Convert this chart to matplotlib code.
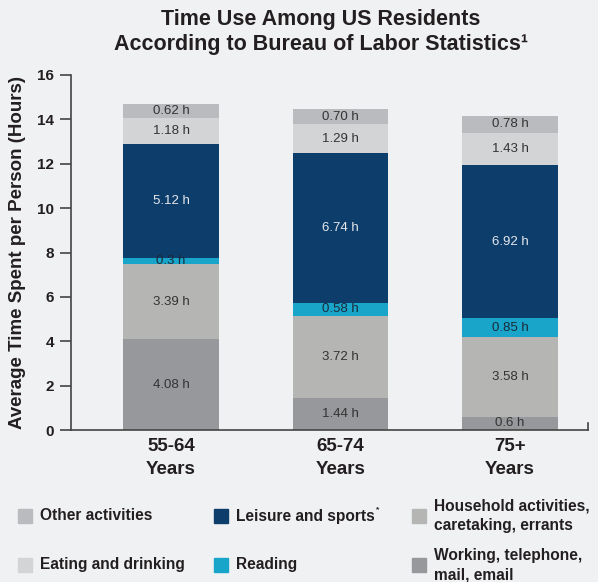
import matplotlib.pyplot as plt
from matplotlib.patches import Rectangle

plt.rcParams['font.family'] = ['Liberation Sans', 'DejaVu Sans']

# data
groups = ['55-64\nYears', '65-74\nYears', '75+\nYears']
working = [4.08, 1.44, 0.6]
household = [3.39, 3.72, 3.58]
reading = [0.3, 0.58, 0.85]
leisure = [5.12, 6.74, 6.92]
eating = [1.18, 1.29, 1.43]
other = [0.62, 0.70, 0.78]

series = [
    ('Working, telephone,\nmail, email', working, '#97989c', '#333333', '{:g} h'),
    ('Household activities,\ncaretaking, errants', household, '#b5b5b3', '#333333', '{:.2f} h'),
    ('Reading', reading, '#18a5c9', '#1c2a3a', '{:g} h'),
    ('Leisure and sports', leisure, '#0d3d6b', '#e6e8ec', '{:.2f} h'),
    ('Eating and drinking', eating, '#d3d4d6', '#333333', '{:.2f} h'),
    ('Other activities', other, '#babbbe', '#333333', '{:.2f} h'),
]

bg = '#f0f1f3'
dark = '#231f20'

fig = plt.figure(figsize=(5.98, 5.82), dpi=100, facecolor=bg)
W, H = 598, 582
ax = fig.add_axes([71 / W, 1 - 430 / H, (588 - 71) / W, (430 - 75) / H])
ax.set_facecolor(bg)

x = range(len(groups))
bottom = [0, 0, 0]
for name, vals, col, tcol, fmt in series:
    ax.bar(x, vals, width=0.566, bottom=bottom, color=col, edgecolor='none', zorder=2)
    for i, v in enumerate(vals):
        ax.text(i, bottom[i] + v / 2, fmt.format(v), ha='center', va='center',
                fontsize=9.5, color=tcol, zorder=3)
    bottom = [b + v for b, v in zip(bottom, vals)]

ax.set_xlim(-0.59, 2.46)
ax.set_ylim(0, 16)
ax.set_yticks(range(0, 17, 2))
ax.set_xticks(list(x))
ax.set_xticklabels(groups, fontsize=13.5, fontweight='bold', color=dark, linespacing=1.4)
ax.tick_params(axis='x', length=0, pad=6)
ax.tick_params(axis='y', length=8, width=1.2, color='#444444', labelsize=11, pad=4,
               labelcolor=dark)
for lab in ax.get_yticklabels():
    lab.set_fontweight('bold')
for s in ['top', 'right']:
    ax.spines[s].set_visible(False)
for s in ['left', 'bottom']:
    ax.spines[s].set_linewidth(1.2)
    ax.spines[s].set_color('#444444')
# little end tick at the right of the baseline
ax.axvline(2.46, ymin=0, ymax=0.02, color='#444444', lw=1.2, clip_on=False)

ax.set_ylabel('Average Time Spent per Person (Hours)', fontsize=13.5, fontweight='bold',
              color=dark, labelpad=8)

fig.text(321 / W, 1 - 32 / H, 'Time Use Among US Residents\nAccording to Bureau of Labor Statistics\u00b9',
         ha='center', va='center', fontsize=15.5, fontweight='bold', color=dark,
         linespacing=1.25)

# legend, drawn by hand in three columns
legend_order = [5, 3, 1, 4, 2, 0]
col_x = [18, 214, 412]
row_y = [516, 565]
renderer = fig.canvas.get_renderer()
for k, idx in enumerate(legend_order):
    name, vals, col, tcol, fmt = series[idx]
    cx = col_x[k % 3]
    cy = row_y[k // 3]
    fig.add_artist(Rectangle((cx / W, 1 - (cy + 7) / H), 14 / W, 14 / H,
                             transform=fig.transFigure, color=col))
    t = fig.text((cx + 22) / W, 1 - cy / H, name, ha='left', va='center', fontsize=11.2,
                 fontweight='bold', color=dark, linespacing=1.4)
    if name == 'Leisure and sports':
        bb = t.get_window_extent(renderer)
        fig.text((bb.x1 + 1) / W, 1 - (cy - 6) / H, '*', fontsize=6,
                 fontweight='bold', color=dark, ha='left', va='center')

fig.savefig('out.png', dpi=100, facecolor=bg)
